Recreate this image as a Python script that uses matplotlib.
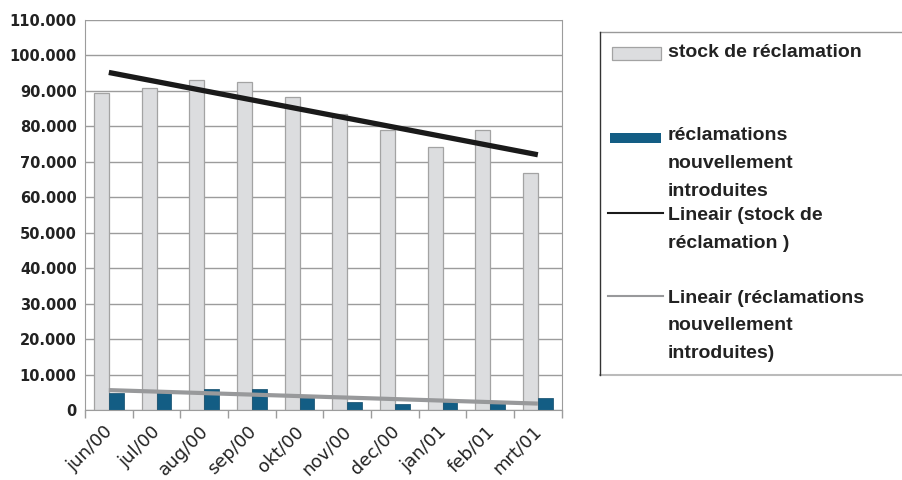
import numpy as np
import matplotlib.pyplot as plt
import matplotlib.transforms as mtransforms
from matplotlib.ticker import FuncFormatter, MultipleLocator
from matplotlib.lines import Line2D
from matplotlib.patches import Rectangle

# maandelijkse cijfers
maanden = ["jun/00", "jul/00", "aug/00", "sep/00", "okt/00",
           "nov/00", "dec/00", "jan/01", "feb/01", "mrt/01"]
stock = [89300, 90700, 93100, 92500, 88200, 83500, 78900, 74100, 78900, 66800]
nieuw = [4900, 5400, 5900, 5900, 3400, 2300, 1700, 2300, 1900, 3400]

GRIJS = "#dcdddf"
BLAUW = "#135d84"
TEKST = "#222222"

fig = plt.figure(figsize=(9.03, 4.8), dpi=100)
W, H = 903, 480
ax = fig.add_axes([85 / W, 70 / H, 476.7 / W, 390 / H])

x = np.arange(len(maanden))
bw = 0.31
ax.bar(x - bw / 2, stock, bw, color=GRIJS, edgecolor="#a3a3a3", linewidth=0.9, zorder=2)
ax.bar(x + bw / 2, nieuw, bw, color=BLAUW, edgecolor="#0e4a6a", linewidth=0.5, zorder=2)

# lineaire trendlijnen
a1, b1 = np.polyfit(x, stock, 1)
a2, b2 = np.polyfit(x, nieuw, 1)
ax.plot(x, a1 * x + b1, color="#1a1a1a", lw=3.8, solid_capstyle="butt", zorder=3)
ax.plot(x, a2 * x + b2, color="#98999b", lw=3.0, solid_capstyle="butt", zorder=3)

ax.set_xlim(-0.5, len(maanden) - 0.5)
ax.set_ylim(0, 110000)
ax.yaxis.set_major_locator(MultipleLocator(10000))
ax.yaxis.set_major_formatter(FuncFormatter(lambda v, p: f"{v:,.0f}".replace(",", ".")))
ax.grid(axis="y", color="#9c9c9c", lw=1.0, zorder=0)
ax.set_axisbelow(True)

ax.set_xticks(x)
ax.set_xticklabels(maanden, rotation=45, ha="right", va="top",
                   rotation_mode="anchor", fontsize=13, color=TEKST)
ax.set_xticks(np.arange(-0.5, len(maanden)), minor=True)
ax.tick_params(axis="x", which="major", length=0, pad=11)
ax.tick_params(axis="x", which="minor", length=6, color="#9c9c9c", width=1)
ax.tick_params(axis="y", length=0, pad=6)
# labels iets naar links/boven schuiven
shift = mtransforms.ScaledTranslation(-0.05, 0.03, fig.dpi_scale_trans)
for lbl in ax.get_xticklabels():
    lbl.set_transform(lbl.get_transform() + shift)
for lbl in ax.get_yticklabels():
    lbl.set_fontweight("bold")
    lbl.set_fontsize(10.5)
    lbl.set_color(TEKST)

for s in ["left", "right", "bottom"]:
    ax.spines[s].set_color("#9c9c9c")
ax.spines["top"].set_visible(False)


# legenda, in pixelcoordinaten
def px(xp, yp):
    return xp / W, 1 - yp / H


lf = dict(fontsize=14, fontweight="bold", family="Liberation Sans", color=TEKST, va="baseline")

fig.add_artist(Line2D([600 / W, 1], [1 - 31.7 / H] * 2, color="#999999", lw=1))
fig.add_artist(Line2D([600 / W, 1], [1 - 375 / H] * 2, color="#bbbbbb", lw=1.5))
fig.add_artist(Line2D([600 / W] * 2, [1 - 31.7 / H, 1 - 375 / H], color="#333333", lw=1))

fig.add_artist(Rectangle(px(612, 60), 49 / W, 13 / H, facecolor=GRIJS, edgecolor="#a3a3a3", lw=0.9))
fig.text(*px(668, 57), "stock de réclamation", **lf)

fig.add_artist(Rectangle(px(610, 143.3), 51 / W, 10 / H, facecolor=BLAUW, edgecolor="none"))
for i, t in enumerate(["réclamations", "nouvellement", "introduites"]):
    fig.text(*px(668, 140.5 + 27.5 * i), t, **lf)

fig.add_artist(Line2D([608 / W, 663 / W], [1 - 213.3 / H] * 2, color="#1a1a1a", lw=1.5))
for i, t in enumerate(["Lineair (stock de", "réclamation )"]):
    fig.text(*px(668, 220 + 28 * i), t, **lf)

fig.add_artist(Line2D([608 / W, 663 / W], [1 - 296 / H] * 2, color="#98999b", lw=1.5))
for i, t in enumerate(["Lineair (réclamations", "nouvellement", "introduites)"]):
    fig.text(*px(668, 303 + 27.5 * i), t, **lf)

fig.savefig("out.png", dpi=100)
